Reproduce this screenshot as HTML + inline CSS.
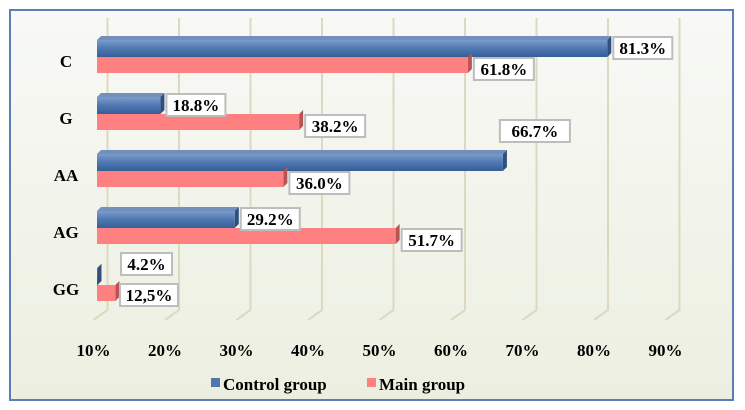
<!DOCTYPE html>
<html><head><meta charset="utf-8"><style>
body{margin:0;width:745px;height:410px;overflow:hidden;background:#fff}
svg{display:block;font-family:"Liberation Serif",serif;font-weight:bold}
</style></head><body>
<svg width="745" height="410">
<defs>
<linearGradient id="bg" x1="0" y1="0" x2="0" y2="1"><stop offset="0" stop-color="#f8f9f6"/><stop offset="1" stop-color="#ecefe0"/></linearGradient>
<linearGradient id="blue" x1="0" y1="0" x2="0" y2="1"><stop offset="0" stop-color="#7c9ccc"/><stop offset="0.5" stop-color="#4f78b0"/><stop offset="1" stop-color="#355e96"/></linearGradient>
</defs>
<rect x="10" y="10" width="723" height="390" fill="url(#bg)" stroke="#5a7fb8" stroke-width="2"/>
<g id="grid"></g><g id="bars"></g><g id="labels"></g>
<g font-size="17">
<rect x="211" y="378" width="9" height="9" fill="#4f78b0"/>
<text x="223" y="390">Control group</text>
<rect x="367" y="378" width="9" height="9" fill="#ff8080"/>
<text x="379" y="390">Main group</text>
</g>
</svg>
<script>
const categories=["C","G","AA","AG","GG"];
const controlValues=[81.3,18.8,66.7,29.2,4.2];
const mainValues=[61.8,38.2,36.0,51.7,12.5];
const controlLabels=["81.3%","18.8%","66.7%","29.2%","4.2%"];
const mainLabels=["61.8%","38.2%","36.0%","51.7%","12,5%"];
const ticks=[10,20,30,40,50,60,70,80,90];
const NS="http://www.w3.org/2000/svg";
function xs(v){return 26+7.15*Math.max(v,10);}
function mk(p,t,a){const e=document.createElementNS(NS,t);for(const k in a)e.setAttribute(k,a[k]);p.appendChild(e);return e;}
const g=document.getElementById('grid'),b=document.getElementById('bars'),l=document.getElementById('labels');
ticks.forEach(t=>{const x=xs(t)+10;
const ln=mk(g,'polyline',{points:`${x},18 ${x},310 ${x-14},320`,fill:'none',stroke:'#ddd8c0','stroke-width':2});


const tx=mk(g,'text',{x:xs(t)-4,y:356,'text-anchor':'middle','font-size':17});tx.textContent=t+'%';

});
function label(txt,x,y,w,name){const gr=mk(l,'g',{});


mk(gr,'rect',{x:x,y:y,width:w,height:22,fill:'#fff',stroke:'#bdbdbd','stroke-width':2});
const t=mk(gr,'text',{x:x+w/2,y:y+17,'text-anchor':'middle','font-size':17});t.textContent=txt;}
categories.forEach((c,i)=>{const y0=40+i*57,x0=97;
const ct=mk(b,'text',{x:66,y:y0+27,'text-anchor':'middle','font-size':17});ct.textContent=c;


const xc=xs(controlValues[i]),xm=xs(mainValues[i]);
const cb=mk(b,'g',{});


mk(cb,'polygon',{points:`${x0},${y0} ${x0+4},${y0-4} ${xc+4},${y0-4} ${xc},${y0}`,fill:'#7290bb'});
mk(cb,'polygon',{points:`${xc},${y0} ${xc+4},${y0-4} ${xc+4},${y0+13} ${xc},${y0+17}`,fill:'#2f4f7f'});
mk(cb,'rect',{x:x0,y:y0,width:Math.max(xc-x0,0.5),height:17,fill:'url(#blue)'});
const mb=mk(b,'g',{});


mk(mb,'polygon',{points:`${xm},${y0+17} ${xm+4},${y0+13} ${xm+4},${y0+29} ${xm},${y0+33}`,fill:'#b85454'});
mk(mb,'rect',{x:x0,y:y0+17,width:xm-x0,height:16,fill:'#ff8080'});
const wC=controlLabels[i].length<5?51:59;
if(c==="AA")label(controlLabels[i],xc-3,y0-34,70,'value-label-control-'+c);
else if(c==="GG")label(controlLabels[i],121,y0-15,51,'value-label-control-'+c);
else label(controlLabels[i],xc+6,y0-3,wC,'value-label-control-'+c);
if(c==="GG")label(mainLabels[i],120,y0+16,58,'value-label-main-'+c);
else label(mainLabels[i],xm+6,y0+18,60,'value-label-main-'+c);});
</script>
</body></html>
